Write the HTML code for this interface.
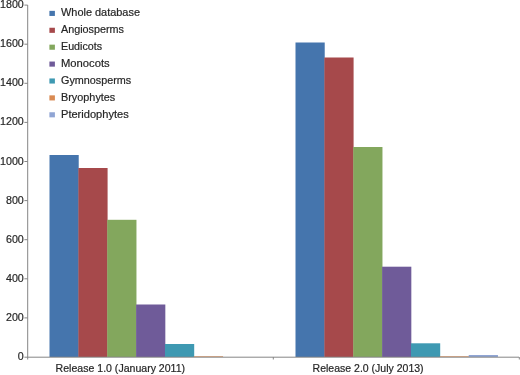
<!DOCTYPE html>
<html><head><meta charset="utf-8"><title>Chart</title>
<style>html,body{margin:0;padding:0;background:#fff;}svg{display:block;}text{font-family:"Liberation Sans",sans-serif;font-size:11px;fill:#262626;stroke:#262626;stroke-width:0.2px;}</style></head>
<body>
<svg width="520" height="375" viewBox="0 0 520 375">
<rect width="520" height="375" fill="#fff"/>
<rect x="49.50" y="155.00" width="29.22" height="202.00" fill="#4575AD"/>
<rect x="78.37" y="168.00" width="29.22" height="189.00" fill="#A6494B"/>
<rect x="107.24" y="219.80" width="29.22" height="137.20" fill="#83A75D"/>
<rect x="136.11" y="304.50" width="29.22" height="52.50" fill="#6F5B99"/>
<rect x="164.98" y="344.00" width="29.22" height="13.00" fill="#3E99B2"/>
<rect x="193.85" y="356.30" width="29.22" height="0.70" fill="#D98A52"/>
<rect x="295.50" y="42.50" width="29.22" height="314.50" fill="#4575AD"/>
<rect x="324.37" y="57.50" width="29.22" height="299.50" fill="#A6494B"/>
<rect x="353.24" y="147.00" width="29.22" height="210.00" fill="#83A75D"/>
<rect x="382.11" y="266.70" width="29.22" height="90.30" fill="#6F5B99"/>
<rect x="410.98" y="343.30" width="29.22" height="13.70" fill="#3E99B2"/>
<rect x="439.85" y="356.30" width="29.22" height="0.70" fill="#D98A52"/>
<rect x="468.72" y="355.00" width="29.22" height="2.00" fill="#90A5D4"/>
<g stroke="#868686" stroke-width="1" fill="none">
<line x1="27.7" y1="5" x2="27.7" y2="359.5"/>
<line x1="24.4" y1="357.2" x2="519" y2="357.2"/>
<line x1="24.4" y1="317.90" x2="27.7" y2="317.90"/>
<line x1="24.4" y1="278.80" x2="27.7" y2="278.80"/>
<line x1="24.4" y1="239.70" x2="27.7" y2="239.70"/>
<line x1="24.4" y1="200.60" x2="27.7" y2="200.60"/>
<line x1="24.4" y1="161.50" x2="27.7" y2="161.50"/>
<line x1="24.4" y1="122.40" x2="27.7" y2="122.40"/>
<line x1="24.4" y1="83.30" x2="27.7" y2="83.30"/>
<line x1="24.4" y1="44.20" x2="27.7" y2="44.20"/>
<line x1="24.4" y1="5.10" x2="27.7" y2="5.10"/>
<line x1="273.3" y1="357.0" x2="273.3" y2="359.5"/>
<line x1="519.3" y1="357.0" x2="519.3" y2="359.5"/>
</g>
<text x="23.8" y="360.00" text-anchor="end" textLength="5.95" lengthAdjust="spacingAndGlyphs">0</text>
<text x="23.8" y="320.90" text-anchor="end" textLength="17.85" lengthAdjust="spacingAndGlyphs">200</text>
<text x="23.8" y="281.80" text-anchor="end" textLength="17.85" lengthAdjust="spacingAndGlyphs">400</text>
<text x="23.8" y="242.70" text-anchor="end" textLength="17.85" lengthAdjust="spacingAndGlyphs">600</text>
<text x="23.8" y="203.60" text-anchor="end" textLength="17.85" lengthAdjust="spacingAndGlyphs">800</text>
<text x="23.8" y="164.50" text-anchor="end" textLength="23.80" lengthAdjust="spacingAndGlyphs">1000</text>
<text x="23.8" y="125.40" text-anchor="end" textLength="23.80" lengthAdjust="spacingAndGlyphs">1200</text>
<text x="23.8" y="86.30" text-anchor="end" textLength="23.80" lengthAdjust="spacingAndGlyphs">1400</text>
<text x="23.8" y="47.20" text-anchor="end" textLength="23.80" lengthAdjust="spacingAndGlyphs">1600</text>
<text x="23.8" y="8.10" text-anchor="end" textLength="23.80" lengthAdjust="spacingAndGlyphs">1800</text>
<rect x="49.4" y="10.85" width="5.5" height="5.1" fill="#4575AD"/>
<text x="61" y="16.30" textLength="79" lengthAdjust="spacingAndGlyphs">Whole database</text>
<rect x="49.4" y="27.75" width="5.5" height="5.1" fill="#A6494B"/>
<text x="61" y="33.20" textLength="63" lengthAdjust="spacingAndGlyphs">Angiosperms</text>
<rect x="49.4" y="44.65" width="5.5" height="5.1" fill="#83A75D"/>
<text x="61" y="50.10" textLength="41" lengthAdjust="spacingAndGlyphs">Eudicots</text>
<rect x="49.4" y="61.55" width="5.5" height="5.1" fill="#6F5B99"/>
<text x="61" y="67.00" textLength="48.7" lengthAdjust="spacingAndGlyphs">Monocots</text>
<rect x="49.4" y="78.45" width="5.5" height="5.1" fill="#3E99B2"/>
<text x="61" y="83.90" textLength="70.2" lengthAdjust="spacingAndGlyphs">Gymnosperms</text>
<rect x="49.4" y="95.35" width="5.5" height="5.1" fill="#D98A52"/>
<text x="61" y="100.80" textLength="54.3" lengthAdjust="spacingAndGlyphs">Bryophytes</text>
<rect x="49.4" y="112.25" width="5.5" height="5.1" fill="#90A5D4"/>
<text x="61" y="117.70" textLength="67.7" lengthAdjust="spacingAndGlyphs">Pteridophytes</text>
<text x="55.6" y="371.8" textLength="129.5" lengthAdjust="spacingAndGlyphs">Release 1.0 (January 2011)</text>
<text x="312.6" y="371.8" textLength="111" lengthAdjust="spacingAndGlyphs">Release 2.0 (July 2013)</text>
</svg>
</body></html>
